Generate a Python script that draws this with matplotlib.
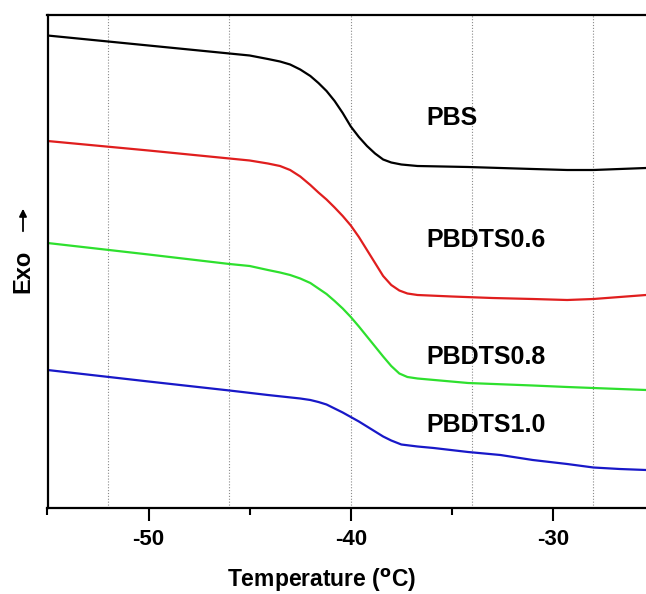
import matplotlib
matplotlib.use('Agg')
import matplotlib.pyplot as plt
from matplotlib.ticker import MultipleLocator

plt.rcParams['font.family'] = ['Liberation Sans', 'DejaVu Sans']
plt.rcParams['font.weight'] = 'bold'
plt.rcParams['axes.unicode_minus'] = False

# ========== data (heat flow in a.u.) ==========
t_pbs = [-55.0, -50.0, -46.0, -45.0, -44.1, -43.5, -43.0, -42.5, -42.0, -41.6, -41.2, -40.8,
         -40.4, -40.0, -39.6, -39.2, -38.8, -38.4, -38.0, -37.5, -36.7, -34.2, -32.6, -31.0,
         -29.3, -28.0, -26.7, -25.4]
y_pbs = [94.5, 92.5, 90.9, 90.5, 89.8, 89.3, 88.7, 87.7, 86.4, 85.0, 83.4, 81.4,
         79.0, 76.3, 74.2, 72.4, 70.9, 69.7, 69.1, 68.7, 68.4, 68.2, 68.0, 67.8,
         67.6, 67.6, 67.8, 68.0]

t_06 = [-55.0, -50.0, -46.0, -45.0, -44.1, -43.5, -43.0, -42.5, -42.0, -41.6, -41.2, -40.8,
        -40.4, -40.0, -39.6, -39.2, -38.8, -38.4, -38.0, -37.6, -37.2, -36.7, -35.0, -33.0,
        -31.0, -29.3, -28.0, -26.7, -25.4]
y_06 = [73.4, 71.5, 69.9, 69.5, 68.9, 68.4, 67.6, 66.3, 64.6, 63.1, 61.7, 60.1,
        58.4, 56.5, 54.2, 51.6, 49.0, 46.4, 44.6, 43.5, 42.9, 42.6, 42.3, 42.0,
        41.8, 41.6, 41.8, 42.2, 42.6]

t_08 = [-55.0, -50.0, -46.0, -45.0, -44.1, -43.5, -43.0, -42.5, -42.0, -41.6, -41.2, -40.8,
        -40.4, -40.0, -39.6, -39.2, -38.8, -38.4, -38.0, -37.6, -37.2, -36.7, -34.2, -31.0,
        -29.3, -28.0, -25.4]
y_08 = [53.0, 50.7, 48.8, 48.4, 47.6, 47.1, 46.6, 45.9, 45.0, 43.9, 42.8, 41.4,
        39.9, 38.2, 36.3, 34.3, 32.3, 30.3, 28.4, 26.9, 26.2, 25.9, 25.0, 24.5,
        24.2, 24.0, 23.6]

t_10 = [-55.0, -50.0, -46.0, -44.1, -42.5, -42.0, -41.6, -41.2, -40.8, -40.4, -40.0, -39.6,
        -39.2, -38.8, -38.4, -38.0, -37.5, -36.7, -35.9, -34.2, -32.6, -31.0, -29.3, -28.0,
        -26.7, -25.4]
y_10 = [27.6, 25.3, 23.5, 22.6, 21.9, 21.6, 21.2, 20.7, 19.9, 19.1, 18.2, 17.3,
        16.3, 15.3, 14.3, 13.5, 12.7, 12.3, 12.0, 11.2, 10.6, 9.6, 8.8, 8.1,
        7.8, 7.6]

labels = ['PBS', 'PBDTS0.6', 'PBDTS0.8', 'PBDTS1.0']
label_y = [78, 53.6, 30.2, 16.6]
colors = ['black', '#E01E1E', '#2EE02E', '#1818C8']
grid_x = [-52, -46, -40, -34, -28]

# ========== figure ==========
W, H = 646, 594
fig = plt.figure(figsize=(W / 100, H / 100), dpi=100)
ax = fig.add_axes([47.5 / W, 86 / H, 1 - 47.5 / W, 493 / H])

for t, y, c in zip([t_pbs, t_06, t_08, t_10], [y_pbs, y_06, y_08, y_10], colors):
    ax.plot(t, y, color=c, lw=1.6, solid_joinstyle='round', solid_capstyle='round')

for gx in grid_x:
    ax.axvline(gx, color='#8a8a8a', lw=0.8, ls=(0, (1, 1.6)), zorder=0)

for lab, ly in zip(labels, label_y):
    ax.text(-36.25, ly, lab, fontsize=18, fontweight='bold', ha='left', va='center')

ax.set_xlim(-55, -25.4)
ax.set_ylim(0, 98.6)

ax.xaxis.set_major_locator(MultipleLocator(10))
ax.xaxis.set_minor_locator(MultipleLocator(5))
ax.tick_params(axis='x', which='major', direction='out', length=9, width=1.5,
               labelsize=16, pad=6)
ax.tick_params(axis='x', which='minor', direction='out', length=5, width=1.5)
ax.set_yticks([])
for lbl in ax.get_xticklabels():
    lbl.set_fontweight('bold')

for s in ['left', 'bottom', 'top']:
    ax.spines[s].set_linewidth(1.6)
ax.spines['right'].set_visible(False)

# axis titles
fig.text(322 / W, 1 - 587 / H, 'Temperature ($\\mathbf{^{o}}$C)', fontsize=16.5,
         fontweight='bold', ha='center', va='baseline')
fig.text(23 / W, 1 - 271 / H, 'Exo', fontsize=17, fontweight='bold', rotation=90,
         ha='center', va='center')
ax.annotate('', xy=(23 / W, 1 - 206 / H), xytext=(23 / W, 1 - 234 / H),
            xycoords='figure fraction', textcoords='figure fraction',
            arrowprops=dict(arrowstyle='-|>', lw=1.3, color='black', mutation_scale=11))

fig.savefig('out.png', dpi=100)
